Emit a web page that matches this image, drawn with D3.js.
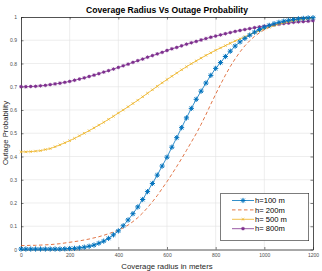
<!DOCTYPE html>
<html>
<head>
<meta charset="utf-8">
<script src="https://cdn.jsdelivr.net/npm/d3@7"></script>
<style>
  body { margin: 0; background: #fff; }
  text { font-family: "Liberation Sans", Arial, sans-serif; }
</style>
</head>
<body>
<script>
// Coverage radius (m), one sample every 20 m
var radius = d3.range(0, 1201, 20);

// Outage probability
var h100 = [0.002,0.002,0.002,0.002,0.002,0.002,0.002,0.002,0.002,0.003,0.004,0.005,0.007,0.010,0.014,0.019,
  0.027,0.036,0.048,0.063,0.080,0.102,0.127,0.154,0.183,0.215,0.249,0.284,0.320,0.359,0.397,0.440,0.481,
  0.524,0.566,0.607,0.646,0.681,0.716,0.749,0.779,0.804,0.830,0.853,0.875,0.893,0.908,0.922,0.935,0.946,
  0.956,0.964,0.971,0.977,0.982,0.986,0.989,0.992,0.994,0.996,0.997];
var h200 = [0.017,0.017,0.018,0.018,0.019,0.020,0.021,0.023,0.025,0.028,0.031,0.034,0.037,0.041,0.045,0.050,
  0.055,0.061,0.068,0.075,0.083,0.093,0.105,0.120,0.137,0.157,0.180,0.205,0.232,0.262,0.292,0.324,0.357,
  0.391,0.426,0.462,0.498,0.538,0.580,0.625,0.668,0.710,0.750,0.787,0.820,0.850,0.876,0.898,0.917,0.932,
  0.945,0.956,0.965,0.972,0.979,0.984,0.988,0.991,0.993,0.995,0.996];
var h500 = [0.420,0.420,0.421,0.423,0.425,0.430,0.434,0.442,0.450,0.459,0.468,0.478,0.489,0.500,0.511,0.523,
  0.535,0.547,0.560,0.573,0.587,0.600,0.614,0.628,0.642,0.657,0.672,0.687,0.702,0.717,0.731,0.745,0.759,
  0.773,0.786,0.799,0.811,0.823,0.835,0.846,0.857,0.867,0.877,0.887,0.897,0.906,0.915,0.924,0.933,0.941,
  0.949,0.956,0.963,0.969,0.975,0.980,0.984,0.988,0.991,0.993,0.995];
var h800 = [0.700,0.700,0.701,0.702,0.704,0.706,0.709,0.712,0.715,0.719,0.723,0.728,0.733,0.738,0.744,0.750,
  0.756,0.763,0.769,0.776,0.783,0.790,0.797,0.805,0.812,0.819,0.827,0.834,0.841,0.848,0.856,0.863,0.869,
  0.876,0.883,0.889,0.895,0.901,0.907,0.913,0.918,0.923,0.928,0.933,0.938,0.942,0.946,0.950,0.954,0.957,
  0.961,0.964,0.967,0.969,0.972,0.974,0.977,0.979,0.980,0.982,0.984];

var seriesNames = ["h=100 m", "h= 200m", "h= 500 m", "h= 800m"];
var seriesColors = ["#0072BD", "#D95319", "#EDB120", "#7E2F8E"];
var xTicks = [0, 200, 400, 600, 800, 1000, 1200];
var yTicks = [0, 0.1, 0.2, 0.3, 0.4, 0.5, 0.6, 0.7, 0.8, 0.9, 1];

var series = [h100, h200, h500, h800].map(function(vals, i) {
  return {name: seriesNames[i], color: seriesColors[i], values: vals};
});

var width = 322, height = 271;
var plot = {left: 21, right: 313, top: 17, bottom: 249.5};

var x = d3.scaleLinear().domain([0, 1200]).range([plot.left, plot.right]);
var y = d3.scaleLinear().domain([0, 1]).range([plot.bottom, plot.top]);

var svg = d3.select("body").append("svg")
    .attr("width", width)
    .attr("height", height);

// grid
svg.append("g").selectAll("line.gx")
    .data(xTicks.slice(1, -1)).enter().append("line")
    .attr("x1", d => x(d)).attr("x2", d => x(d))
    .attr("y1", plot.top).attr("y2", plot.bottom)
    .attr("stroke", "#e3e3e3").attr("stroke-width", 0.6);
svg.append("g").selectAll("line.gy")
    .data(yTicks.slice(1, -1)).enter().append("line")
    .attr("y1", d => y(d)).attr("y2", d => y(d))
    .attr("x1", plot.left).attr("x2", plot.right)
    .attr("stroke", "#e3e3e3").attr("stroke-width", 0.6);

// axes (box with inward ticks)
function styleAxis(g) {
  g.selectAll("path").attr("stroke", "#262626").attr("stroke-width", 0.8);
  g.selectAll("line").attr("stroke", "#262626").attr("stroke-width", 0.6);
  g.selectAll("text").attr("fill", "#4d4d4d").style("font-size", "5px")
    .style("font-family", "'Liberation Sans', Arial, sans-serif");
}
svg.append("g").attr("transform", "translate(0," + plot.bottom + ")")
    .call(d3.axisBottom(x).tickValues(xTicks).tickSizeInner(-2.5).tickSizeOuter(0).tickPadding(4)
      .tickFormat(d3.format("d")))
    .call(styleAxis);
svg.append("g").attr("transform", "translate(0," + plot.top + ")")
    .call(d3.axisTop(x).tickValues(xTicks).tickSizeInner(-2.5).tickSizeOuter(0).tickFormat(""))
    .call(styleAxis);
svg.append("g").attr("transform", "translate(" + plot.left + ",0)")
    .call(d3.axisLeft(y).tickValues(yTicks).tickSizeInner(-2.5).tickSizeOuter(0).tickPadding(4)
      .tickFormat(d => d === 0 || d === 1 ? String(d) : d.toFixed(1)))
    .call(styleAxis);
svg.append("g").attr("transform", "translate(" + plot.right + ",0)")
    .call(d3.axisRight(y).tickValues(yTicks).tickSizeInner(-2.5).tickSizeOuter(0).tickFormat(""))
    .call(styleAxis);

// lines
var line = d3.line()
    .x((d, i) => x(radius[i]))
    .y(d => y(d));

// marker shapes
var star = "M0,-2.6V2.6M-2.6,0H2.6M-1.85,-1.85L1.85,1.85M-1.85,1.85L1.85,-1.85";
var cross = "M-1.3,-1.3L1.3,1.3M-1.3,1.3L1.3,-1.3";
function drawMarker(g, k, color) {
  if (k === 0) {
    g.append("path").attr("d", star).attr("stroke", color).attr("stroke-width", 1).attr("fill", "none");
  } else if (k === 2) {
    g.append("path").attr("d", cross).attr("stroke", color).attr("stroke-width", 0.7).attr("fill", "none");
  } else if (k === 3) {
    g.append("path").attr("d", star).attr("stroke", color).attr("stroke-width", 0.8)
      .attr("transform", "scale(0.75)").attr("fill", "none");
    g.append("circle").attr("r", 1.4).attr("fill", color);
  }
}

// draw h=800 first, then 500, 200, 100 on top
[3, 2, 1, 0].forEach(function(k) {
  var s = series[k];
  svg.append("path")
      .datum(s.values)
      .attr("d", line)
      .attr("fill", "none")
      .attr("stroke", s.color)
      .attr("stroke-width", 0.8)
      .attr("stroke-dasharray", k === 1 ? "3.5,2.5" : null);
  if (k !== 1) {
    svg.append("g").selectAll("g")
        .data(s.values).enter().append("g")
        .attr("transform", (d, i) => "translate(" + x(radius[i]) + "," + y(d) + ")")
        .each(function() { drawMarker(d3.select(this), k, s.color); });
  }
});

// title and axis labels
svg.append("text")
    .attr("x", 167).attr("y", 13)
    .attr("text-anchor", "middle")
    .style("font-size", "8.6px").style("font-weight", "bold")
    .attr("fill", "#000")
    .text("Coverage Radius Vs Outage Probability");
svg.append("text")
    .attr("x", 167).attr("y", 268.5)
    .attr("text-anchor", "middle")
    .style("font-size", "7.8px")
    .attr("fill", "#262626")
    .text("Coverage radius in meters");
svg.append("text")
    .attr("transform", "translate(7.5,133) rotate(-90)")
    .attr("text-anchor", "middle")
    .style("font-size", "7.8px")
    .attr("fill", "#262626")
    .text("Outage Probability");

// legend
var lg = svg.append("g");
lg.append("rect")
    .attr("x", 220.7).attr("y", 193.3).attr("width", 88).attr("height", 47.4)
    .attr("fill", "#fff").attr("stroke", "#262626").attr("stroke-width", 0.6);
series.forEach(function(s, k) {
  var ly = 200.5 + k * 9.4;
  lg.append("line")
      .attr("x1", 232).attr("x2", 254).attr("y1", ly).attr("y2", ly)
      .attr("stroke", s.color).attr("stroke-width", 0.8)
      .attr("stroke-dasharray", k === 1 ? "3.5,2.5" : null);
  var m = lg.append("g").attr("transform", "translate(243," + ly + ")");
  drawMarker(m, k, s.color);
  lg.append("text")
      .attr("x", 255).attr("y", ly + 2.7)
      .style("font-size", "7.6px")
      .attr("fill", "#000")
      .text(s.name);
});
</script>
</body>
</html>
